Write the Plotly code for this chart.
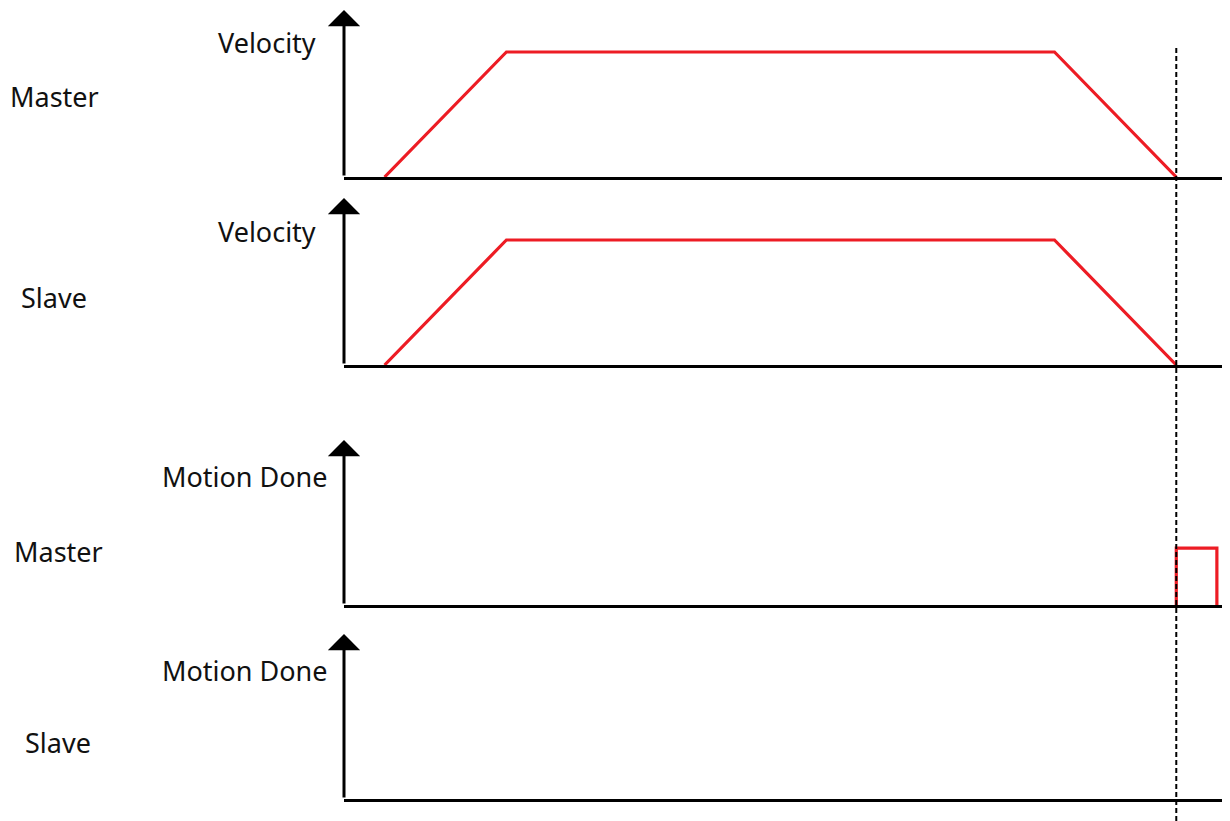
import plotly.graph_objects as go

# time points (arbitrary units) and levels
vel_time = [1, 4, 17.5, 20.5]
master_vel = [0, 1, 1, 0]
slave_vel = [0, 1, 1, 0]
done_time = [20.5, 20.5, 21.5, 21.5]
master_done = [0, 1, 1, 0]
slave_done = [0, 0, 0, 0]
slave_done_time = [20.5, 20.5, 21.5, 21.5]
stop_time = 20.5

# page body adds an 8px margin, so the figure is drawn 8px smaller and shifted
OFF = 8
W, H = 1230 - OFF, 821 - OFF
red = '#ED1C24'
font = dict(family='Noto Sans', size=27, color='#111111')


def px(x):
    return (x - OFF) / W


def py(y):
    return 1 - (y - OFF) / H


# pixel layout of the four panels: (baseline, arrow tip)
panels = [(177, 10), (365, 198), (605, 440), (799, 634)]
yranges = [[0, 1.336], [0, 1.336], [0, 2.9], [0, 2.9]]
side_labels = ['Master', 'Slave', 'Master', 'Slave']
side_y = [97, 297, 551, 742]
side_x = [54, 54, 58, 58]
axis_labels = ['Velocity', 'Velocity', 'Motion Done', 'Motion Done']
axis_label_y = [43, 231, 477, 670]
axis_label_x = [318, 318, 330, 330]

fig = go.Figure()
series = [(vel_time, master_vel), (vel_time, slave_vel),
          (done_time, master_done), (slave_done_time, slave_done)]
for i, (t, v) in enumerate(series):
    n = '' if i == 0 else str(i + 1)
    if i < 3:
        fig.add_trace(go.Scatter(x=t, y=v, mode='lines', xaxis='x' + n, yaxis='y' + n,
                                 line=dict(color=red, width=3.2), showlegend=False))
    base, tip = panels[i]
    fig.layout['xaxis' + n] = dict(domain=[px(344), px(1225)], range=[0, 21.7],
                                   anchor='y' + n, showline=True, linewidth=3, linecolor='black',
                                   showgrid=False, zeroline=False, showticklabels=False, ticks='')
    fig.layout['yaxis' + n] = dict(domain=[py(base), py(tip)], range=yranges[i],
                                   anchor='x' + n, showline=False, showgrid=False,
                                   zeroline=False, showticklabels=False, ticks='')
    # vertical axis with arrow head
    fig.add_annotation(x=0, y=yranges[i][1], ax=0, ay=0, xref='x' + n, yref='y' + n,
                       axref='x' + n, ayref='y' + n, text='', showarrow=True,
                       arrowhead=1, arrowwidth=3, arrowsize=1.8, arrowcolor='black')
    fig.add_annotation(x=px(axis_label_x[i]), y=py(axis_label_y[i]), xref='paper', yref='paper',
                       text=axis_labels[i], showarrow=False, xanchor='right', yanchor='middle', font=font)
    fig.add_annotation(x=px(side_x[i]), y=py(side_y[i]), xref='paper', yref='paper',
                       text=side_labels[i], showarrow=False, xanchor='center', yanchor='middle', font=font)

# dashed line at the stop time
fig.add_shape(type='line', xref='x', yref='paper', x0=stop_time, x1=stop_time,
              y0=0, y1=py(47), line=dict(color='black', width=2, dash='5px,3px'))

fig.update_layout(width=W, height=H, margin=dict(l=0, r=0, t=0, b=0),
                  plot_bgcolor='white', paper_bgcolor='white')
fig.write_html("out.html")
